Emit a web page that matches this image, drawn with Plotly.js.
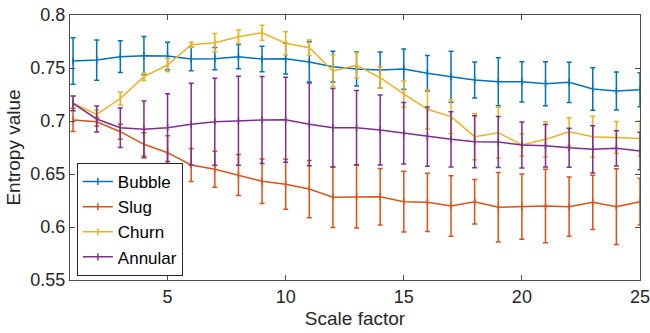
<!DOCTYPE html>
<html>
<head>
<meta charset="utf-8">
<script src="https://cdn.plot.ly/plotly-3.0.1.min.js"></script>
<style>html,body{margin:0;padding:0;background:#fff;}#chart{width:650px;height:333px;}</style>
</head>
<body>
<div id="chart"></div>
<script>
const scale = [1,2,3,4,5,6,7,8,9,10,11,12,13,14,15,16,17,18,19,20,21,22,23,24,25];

const bubble    = [0.7566,0.7575,0.7607,0.7616,0.7613,0.7585,0.7588,0.7607,0.7585,0.7588,0.7557,0.7512,0.7490,0.7480,0.7490,0.7450,0.7418,0.7387,0.7371,0.7370,0.7352,0.7365,0.7302,0.7283,0.7295];
const bubbleErr = [0.022,0.019,0.015,0.018,0.013,0.011,0.0105,0.0115,0.012,0.0145,0.019,0.0145,0.016,0.017,0.019,0.0167,0.024,0.017,0.0226,0.019,0.0207,0.019,0.020,0.018,0.016];

const slug    = [0.7010,0.6993,0.6899,0.6780,0.6701,0.6585,0.6544,0.6491,0.6431,0.6403,0.6358,0.6280,0.6286,0.6286,0.6239,0.6233,0.6198,0.6239,0.6186,0.6192,0.6198,0.6192,0.6233,0.6192,0.6239];
const slugErr = [0.011,0.004,0.007,0.011,0.016,0.0155,0.017,0.0193,0.021,0.0235,0.027,0.0285,0.0296,0.0266,0.0286,0.0275,0.0285,0.021,0.0328,0.0307,0.0347,0.028,0.0256,0.0357,0.022];

const churn    = [0.7167,0.7063,0.7212,0.7418,0.7528,0.7720,0.7739,0.7795,0.7833,0.7733,0.7692,0.7472,0.7525,0.7409,0.7255,0.7110,0.7041,0.6852,0.6890,0.6774,0.6827,0.6899,0.6852,0.6846,0.6836];
const churnErr = [0.007,0.004,0.006,0.0035,0.0063,0.0024,0.0086,0.0063,0.0071,0.011,0.0073,0.015,0.012,0.010,0.0122,0.0185,0.016,0.0217,0.024,0.0105,0.0165,0.0132,0.0193,0.015,0.0163];

const annular    = [0.7167,0.7019,0.6937,0.6921,0.6937,0.6969,0.6993,0.7003,0.7009,0.7012,0.6969,0.6937,0.6937,0.6915,0.6884,0.6852,0.6827,0.6805,0.6802,0.6774,0.6767,0.6748,0.6733,0.6742,0.6717];
const annularErr = [0.007,0.0123,0.0186,0.0267,0.032,0.0387,0.041,0.042,0.041,0.040,0.039,0.037,0.035,0.033,0.029,0.028,0.026,0.0245,0.024,0.0217,0.020,0.0184,0.0223,0.0167,0.0176];

const names  = ['Bubble','Slug','Churn','Annular'];
const colors = ['#0072BD','#D95319','#EDB120','#7E2F8E'];
const series = [[bubble,bubbleErr],[slug,slugErr],[churn,churnErr],[annular,annularErr]];

const traces = series.map((s,i)=>({
  x: scale, y: s[0], name: names[i], type:'scatter', mode:'lines+markers',
  line:{color:colors[i], width:1.5},
  marker:{symbol:'line-ns-open', size:5, color:colors[i], line:{color:colors[i], width:1.5}},
  error_y:{type:'data', array:s[1], visible:true, color:colors[i], thickness:1.5, width:2.5}
}));

const fam = '"Liberation Sans", Arial, sans-serif';
const tickFont = {family:fam, size:18, color:'#262626'};
const titleFont = {family:fam, size:19, color:'#262626'};
const layout = {
  width:650, height:333,
  margin:{l:70, r:10, t:15, b:53},
  paper_bgcolor:'#fff', plot_bgcolor:'#fff',
  font:tickFont,
  showlegend:true,
  legend:{x:0.012, y:0.015, xanchor:'left', yanchor:'bottom', bgcolor:'#fff',
          bordercolor:'#262626', borderwidth:1, font:{family:fam, size:17, color:'#000'},
          itemwidth:30, tracegroupgap:0},
  xaxis:{range:[0.87,25], tickvals:[5,10,15,20,25], ticktext:['5','10','15','20','25'],
         ticklabeloverflow:'allow',
         ticks:'inside', ticklen:5, tickcolor:'#4d4d4d', showline:true, linecolor:'#4d4d4d', linewidth:1,
         mirror:'ticks', showgrid:false, zeroline:false, tickfont:tickFont,
         title:{text:'Scale factor', font:titleFont, standoff:6}},
  yaxis:{range:[0.55,0.8], tickvals:[0.55,0.6,0.65,0.7,0.75,0.8], ticktext:['0.55','0.6','0.65','0.7','0.75','0.8'],
         ticks:'inside', ticklen:5, tickcolor:'#4d4d4d', showline:true, linecolor:'#4d4d4d', linewidth:1,
         mirror:'ticks', showgrid:false, zeroline:false, tickfont:tickFont,
         title:{text:'Entropy value', font:titleFont, standoff:4}}
};
Plotly.newPlot('chart', traces, layout, {displayModeBar:false, staticPlot:true});
</script>
</body>
</html>
